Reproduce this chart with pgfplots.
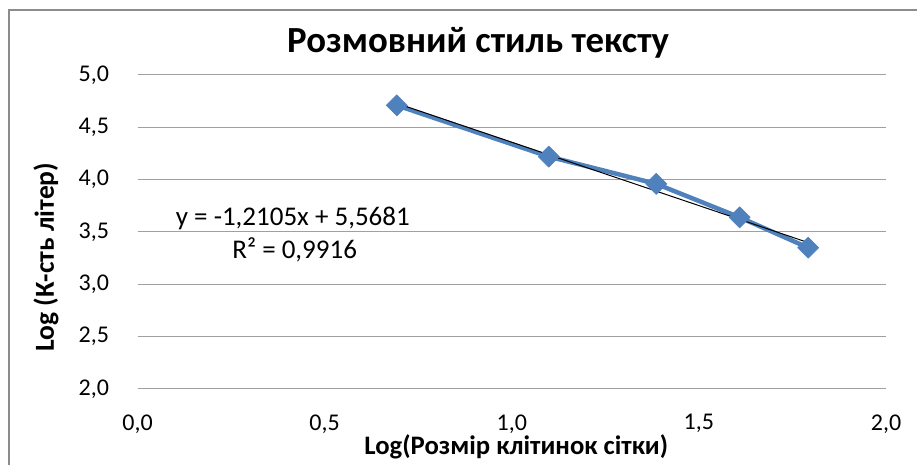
\documentclass[border=0pt]{standalone}
\usepackage{pgfplots}
\pgfplotsset{compat=1.18}
\usepackage{fontspec}
\setmainfont{Carlito}
\definecolor{exblue}{HTML}{4F81BD}
\definecolor{gridgray}{HTML}{A0A0A0}
\definecolor{framegray}{HTML}{8C8C8C}
\begin{document}
\begin{tikzpicture}
\useasboundingbox (0pt,0pt) rectangle (917pt,465pt);
\draw[color=framegray, line width=2pt] (9pt,-30pt) -- (9pt,455pt) -- (960pt,455pt);
\node[font=\bfseries\fontsize{36.8}{40}\selectfont, anchor=base] at (478pt,412pt) {Розмовний стиль тексту};
\begin{axis}[
  at={(137.5pt,76pt)}, anchor=south west,
  scale only axis, width=748.5pt, height=314pt,
  xmin=0, xmax=2, ymin=2, ymax=5,
  xtick={0,0.5,1,1.5,2}, ytick={2,2.5,3,3.5,4,4.5,5},
  axis line style={draw=none},
  major tick length=0pt,
  ymajorgrids, grid style={gridgray, line width=1pt},
  tick label style={font=\fontsize{24}{26}\selectfont, black},
  /pgf/number format/.cd, use comma, fixed, fixed zerofill, precision=1, assume math mode=true,
  /pgfplots/.cd,
  xticklabel style={yshift=-22pt},
  yticklabel style={xshift=-25pt},
  xlabel={Log(Розмір клітинок сітки)},
  ylabel={Log (К-сть літер)},
  xlabel style={font=\bfseries\fontsize{26.7}{29}\selectfont, at={(axis description cs:0.506,0)}, anchor=center, yshift=-58pt},
  ylabel style={font=\bfseries\fontsize{27.5}{30}\selectfont, at={(axis description cs:-0.1222,0.42)}, anchor=center},
  clip=false,
]
\addplot[exblue, line width=4.5pt, line join=round, mark=square*, mark size=7.5pt, mark options={rotate=45, fill=exblue, draw=exblue, line width=0.5pt}]
  coordinates {(0.693,4.71) (1.099,4.22) (1.386,3.96) (1.609,3.64) (1.792,3.35)};
\addplot[black, line width=1pt] coordinates {(0.693,4.7292) (1.792,3.3989)};
\node[font=\fontsize{27}{30}\selectfont] at (axis cs:0.415,3.634) {y = -1,2105x + 5,5681};
\node[font=\fontsize{27}{30}\selectfont] at (axis cs:0.42,3.328) {R² = 0,9916};
\end{axis}
\end{tikzpicture}
\end{document}
